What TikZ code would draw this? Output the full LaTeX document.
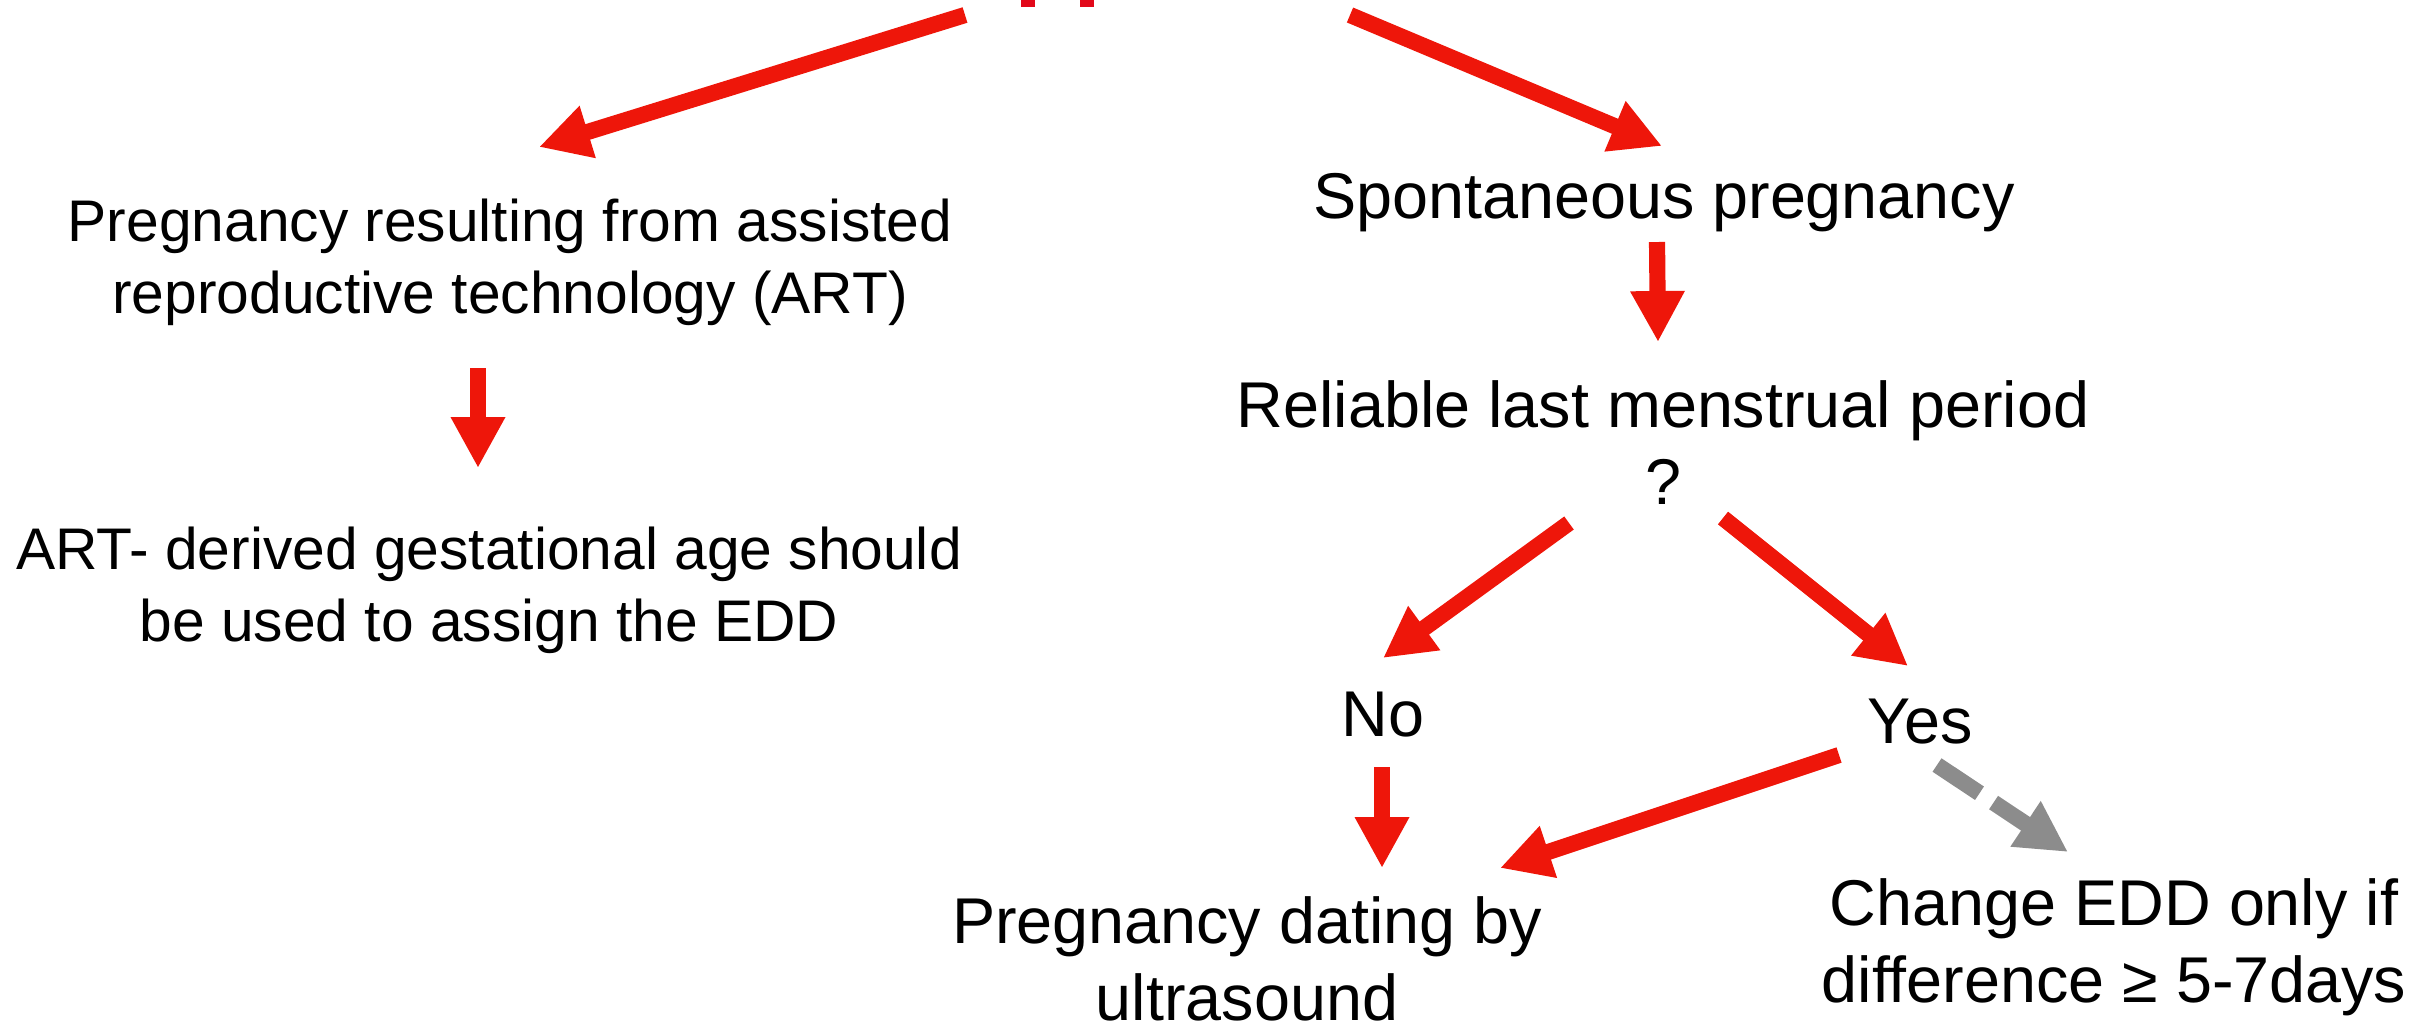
\documentclass[tikz,border=0pt]{standalone}
\usepackage{fontspec}
\setmainfont{Liberation Sans}
\usetikzlibrary{arrows.meta,calc}
\definecolor{artred}{RGB}{238,22,10}
\definecolor{cutred}{RGB}{226,8,26}
\definecolor{dashgray}{RGB}{140,140,140}

\begin{document}
\begin{tikzpicture}[x=0.01cm, y=-0.01cm,
	leftlbl/.style={inner sep=0pt, anchor=base, align=center, font=\fontsize{16.7}{20.2}\selectfont},
	rightlbl/.style={inner sep=0pt, anchor=base, align=center, font=\fontsize{18.4}{21.8}\selectfont},
	redarr/.style={draw=artred, line width=4.6pt, -{Triangle[width=14.5pt,length=14.5pt]}},
	grayarr/.style={draw=dashgray, line width=4.6pt, dash pattern=on 14.5pt off 4.8pt, -{Triangle[width=14.5pt,length=14.5pt]}}]
			%%%%% START %%%%%
			
			\useasboundingbox (0,0) rectangle (2425,1026);
			
			% cut-off stems at the top
			\fill[cutred] (1021,0) rectangle (1035,7);
			\fill[cutred] (1080,0) rectangle (1094,7);
			\coordinate (topl) at (965,15);
			\coordinate (topr) at (1350,15);
			
			% ART branch (base = last line)
			\node[leftlbl] (art) at (510,313) {Pregnancy resulting from assisted\\reproductive technology (ART)};
			\node[leftlbl] (artedd) at (489,641) {ART- derived gestational age should\\be used to assign the EDD};
			
			% spontaneous branch
			\node[rightlbl] (spont) at (1664,218) {Spontaneous pregnancy};
			\node[rightlbl] (lmp) at (1663,504) {Reliable last menstrual period\\?};
			\node[rightlbl] (no) at (1383,736) {No};
			\node[rightlbl] (yes) at (1920,743) {Yes};
			\node[rightlbl] (usdate) at (1247,1020) {Pregnancy dating by\\ultrasound};
			\node[rightlbl] (change) at (2114,1002) {Change EDD only if\\difference ≥ 5-7days};
			
			\draw[redarr] (topl) -- ($(art.base)+(29,-166)$);
			\draw[redarr] (topr) -- ($(spont.base)+(-2,-72)$);
			\draw[redarr] ($(art.base)+(-32,55)$) -- ($(artedd.base)+(-11,-173)$);
			\draw[redarr] ($(spont.base)+(-7,24)$) -- ($(lmp.base)+(-5,-162)$);
			\draw[redarr] ($(lmp.base)+(-94,19)$) -- ($(no.base)+(0,-78)$);
			\draw[redarr] ($(lmp.base)+(60,14)$) -- ($(yes.base)+(-12,-77)$);
			\draw[redarr] ($(no.base)+(-1,31)$) -- ($(usdate.base)+(135,-152)$);
			\draw[redarr] ($(yes.base)+(-81,12)$) -- ($(usdate.base)+(253,-152)$);
			\draw[grayarr] ($(yes.base)+(17,22)$) -- ($(change.base)+(-46,-150)$);
			
			%%%%% END %%%%%
\end{tikzpicture}
\end{document}
